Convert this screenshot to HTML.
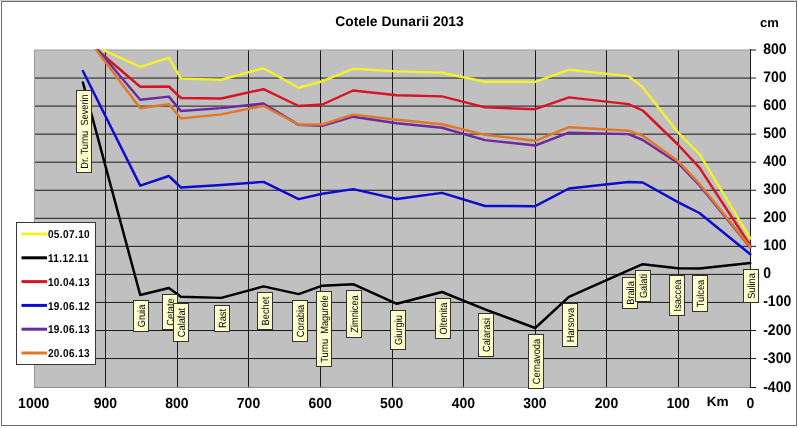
<!DOCTYPE html>
<html><head><meta charset="utf-8"><title>Cotele Dunarii 2013</title><style>
html,body{margin:0;padding:0;background:#fff;}
body{width:798px;height:428px;overflow:hidden;position:relative;font-family:"Liberation Sans",sans-serif;}
svg{position:absolute;left:0;top:0;display:block;will-change:transform;}
text{font-family:"Liberation Sans",sans-serif;text-rendering:geometricPrecision;}
</style></head><body>
<svg width="798" height="428" viewBox="0 0 798 428">
<defs><clipPath id="pc"><rect x="34" y="48" width="718" height="340"/></clipPath></defs>
<rect x="0" y="0" width="798" height="1" fill="#d0d0d0"/>
<rect x="1.5" y="1.5" width="795" height="424" fill="#fff" stroke="#6c6c6c" stroke-width="1"/>

<rect x="34" y="50" width="716.5" height="337.5" fill="#c0c0c0"/>
<path d="M34 78.05H750 M34 106.10H750 M34 134.15H750 M34 162.20H750 M34 190.25H750 M34 218.30H750 M34 246.35H750 M34 274.40H750 M34 302.45H750 M34 330.50H750 M34 358.55H750 M105.5 50V387 M177.5 50V387 M248.5 50V387 M320.5 50V387 M392.5 50V387 M463.5 50V387 M535.5 50V387 M606.5 50V387 M678.5 50V387" stroke="#1a1a1a" stroke-width="1" fill="none"/>
<path d="M34.5 387.5V50H750" stroke="#9a9a9a" stroke-width="1" fill="none"/>
<path d="M34 387.5H750" stroke="#8c8c8c" stroke-width="1" fill="none"/>
<path d="M750.5 49V388 M750 50.00H756 M750 78.05H756 M750 106.10H756 M750 134.15H756 M750 162.20H756 M750 190.25H756 M750 218.30H756 M750 246.35H756 M750 274.40H756 M750 302.45H756 M750 330.50H756 M750 358.55H756 M750 387.50H756" stroke="#1a1a1a" stroke-width="1" fill="none"/>
<g clip-path="url(#pc)" fill="none" stroke-width="2.45" stroke-linejoin="round" stroke-linecap="round">
<polyline points="103.25,50.00 140.22,66.90 168.89,57.60 180.90,78.60 221.23,79.80 263.52,68.20 298.65,87.70 322.31,81.20 353.14,68.80 396.87,71.40 442.03,72.70 485.05,81.70 535.23,81.90 568.92,69.80 628.43,76.10 642.76,87.40 677.90,132.30 699.40,153.80 750.30,238.40" stroke="#f2f22a"/>
<polyline points="82.90,82.40 140.22,295.00 168.89,288.00 180.90,296.80 221.23,297.90 263.52,286.40 298.65,294.10 322.31,285.70 353.14,284.20 396.87,303.80 442.03,292.00 485.05,309.30 535.23,328.00 568.92,296.90 628.43,270.40 642.76,264.20 677.90,268.30 699.40,268.50 750.30,263.00" stroke="#000000"/>
<polyline points="97.17,50.00 140.22,86.80 168.89,86.50 180.90,98.00 221.23,98.50 263.52,89.20 298.65,106.00 322.31,104.50 353.14,90.50 396.87,95.20 442.03,96.40 485.05,107.40 535.23,109.20 568.92,97.40 628.43,104.10 642.76,110.50 677.90,144.50 699.40,167.70 750.30,245.40" stroke="#d81424"/>
<polyline points="82.90,71.00 140.22,185.60 168.89,176.00 180.90,187.50 221.23,185.00 263.52,181.90 298.65,199.10 322.31,193.80 353.14,189.10 396.87,199.00 442.03,192.90 485.05,206.00 535.23,206.20 568.92,188.50 628.43,182.00 642.76,182.50 677.90,202.10 699.40,213.00 750.30,254.30" stroke="#0c0cd0"/>
<polyline points="98.01,50.00 140.22,99.70 168.89,96.60 180.90,111.00 221.23,108.10 263.52,103.50 298.65,124.90 322.31,125.80 353.14,116.70 396.87,123.30 442.03,127.70 485.05,140.10 535.23,145.50 568.92,132.70 628.43,134.10 642.76,140.00 677.90,163.00 699.40,185.20 750.30,247.50" stroke="#6a2aa0"/>
<polyline points="96.31,50.00 140.22,108.30 168.89,104.10 180.90,118.50 221.23,114.40 263.52,105.80 298.65,124.50 322.31,124.50 353.14,114.60 396.87,119.80 442.03,124.20 485.05,134.90 535.23,140.80 568.92,127.20 628.43,130.70 642.76,135.70 677.90,160.90 699.40,183.70 750.30,246.90" stroke="#e07828"/>
</g>
<rect x="76.5" y="90.5" width="15" height="82" fill="#ffffce" stroke="#333" stroke-width="1"/>
<text transform="translate(87.8 131.5) rotate(-90) scale(0.890 1)" text-anchor="middle" font-size="10.4" fill="#000" xml:space="preserve">Dr. Turnu  Severin</text>
<rect x="133.5" y="300.5" width="15" height="31" fill="#ffffce" stroke="#333" stroke-width="1"/>
<text transform="translate(144.8 316.0) rotate(-90) scale(0.890 1)" text-anchor="middle" font-size="10.4" fill="#000" xml:space="preserve">Gruia</text>
<rect x="162.5" y="294.5" width="15" height="35" fill="#ffffce" stroke="#333" stroke-width="1"/>
<text transform="translate(173.8 312.0) rotate(-90) scale(0.890 1)" text-anchor="middle" font-size="10.4" fill="#000" xml:space="preserve">Cetate</text>
<rect x="173.5" y="303.5" width="15" height="38" fill="#ffffce" stroke="#333" stroke-width="1"/>
<text transform="translate(184.8 322.5) rotate(-90) scale(0.890 1)" text-anchor="middle" font-size="10.4" fill="#000" xml:space="preserve">Calafat</text>
<rect x="214.5" y="305.5" width="15" height="26" fill="#ffffce" stroke="#333" stroke-width="1"/>
<text transform="translate(225.8 318.5) rotate(-90) scale(0.890 1)" text-anchor="middle" font-size="10.4" fill="#000" xml:space="preserve">Rast</text>
<rect x="257.5" y="292.5" width="15" height="37" fill="#ffffce" stroke="#333" stroke-width="1"/>
<text transform="translate(268.8 311.0) rotate(-90) scale(0.890 1)" text-anchor="middle" font-size="10.4" fill="#000" xml:space="preserve">Bechet</text>
<rect x="292.5" y="300.5" width="15" height="41" fill="#ffffce" stroke="#333" stroke-width="1"/>
<text transform="translate(303.8 321.0) rotate(-90) scale(0.890 1)" text-anchor="middle" font-size="10.4" fill="#000" xml:space="preserve">Corabia</text>
<rect x="316.5" y="291.5" width="15" height="75" fill="#ffffce" stroke="#333" stroke-width="1"/>
<text transform="translate(327.8 329.0) rotate(-90) scale(0.890 1)" text-anchor="middle" font-size="10.4" fill="#000" xml:space="preserve">Turnu  Magurele</text>
<rect x="346.5" y="290.5" width="15" height="47" fill="#ffffce" stroke="#333" stroke-width="1"/>
<text transform="translate(357.8 314.0) rotate(-90) scale(0.890 1)" text-anchor="middle" font-size="10.4" fill="#000" xml:space="preserve">Zimnicea</text>
<rect x="390.5" y="310.5" width="15" height="39" fill="#ffffce" stroke="#333" stroke-width="1"/>
<text transform="translate(401.8 330.0) rotate(-90) scale(0.890 1)" text-anchor="middle" font-size="10.4" fill="#000" xml:space="preserve">Giurgiu</text>
<rect x="435.5" y="298.5" width="15" height="40" fill="#ffffce" stroke="#333" stroke-width="1"/>
<text transform="translate(446.8 318.5) rotate(-90) scale(0.890 1)" text-anchor="middle" font-size="10.4" fill="#000" xml:space="preserve">Oltenita</text>
<rect x="478.5" y="313.5" width="15" height="43" fill="#ffffce" stroke="#333" stroke-width="1"/>
<text transform="translate(489.8 335.0) rotate(-90) scale(0.890 1)" text-anchor="middle" font-size="10.4" fill="#000" xml:space="preserve">Calarasi</text>
<rect x="528.5" y="334.5" width="15" height="54" fill="#ffffce" stroke="#333" stroke-width="1"/>
<text transform="translate(539.8 361.5) rotate(-90) scale(0.890 1)" text-anchor="middle" font-size="10.4" fill="#000" xml:space="preserve">Cernavoda</text>
<rect x="562.5" y="303.5" width="15" height="43" fill="#ffffce" stroke="#333" stroke-width="1"/>
<text transform="translate(573.8 325.0) rotate(-90) scale(0.890 1)" text-anchor="middle" font-size="10.4" fill="#000" xml:space="preserve">Harsova</text>
<rect x="622.5" y="277.5" width="15" height="31" fill="#ffffce" stroke="#333" stroke-width="1"/>
<text transform="translate(633.8 293.0) rotate(-90) scale(0.890 1)" text-anchor="middle" font-size="10.4" fill="#000" xml:space="preserve">Braila</text>
<rect x="635.5" y="270.5" width="15" height="31" fill="#ffffce" stroke="#333" stroke-width="1"/>
<text transform="translate(646.8 286.0) rotate(-90) scale(0.890 1)" text-anchor="middle" font-size="10.4" fill="#000" xml:space="preserve">Galati</text>
<rect x="669.5" y="275.5" width="15" height="40" fill="#ffffce" stroke="#333" stroke-width="1"/>
<text transform="translate(680.8 295.5) rotate(-90) scale(0.890 1)" text-anchor="middle" font-size="10.4" fill="#000" xml:space="preserve">Isaccea</text>
<rect x="692.5" y="275.5" width="15" height="36" fill="#ffffce" stroke="#333" stroke-width="1"/>
<text transform="translate(703.8 293.5) rotate(-90) scale(0.890 1)" text-anchor="middle" font-size="10.4" fill="#000" xml:space="preserve">Tulcea</text>
<rect x="743.5" y="269.5" width="15" height="33" fill="#ffffce" stroke="#333" stroke-width="1"/>
<text transform="translate(754.8 286.0) rotate(-90) scale(0.890 1)" text-anchor="middle" font-size="10.4" fill="#000" xml:space="preserve">Sulina</text>
<rect x="16.5" y="222.5" width="79" height="142" fill="#fff" stroke="#383838" stroke-width="1"/>
<path d="M21.5 234.0H47" stroke="#f2f22a" stroke-width="3"/>
<text transform="translate(47.9 238.10) scale(0.88 1)" font-size="11.4" font-weight="bold" letter-spacing="0.45" fill="#000">05.07.10</text>
<path d="M21.5 257.8H47" stroke="#000000" stroke-width="3"/>
<text transform="translate(47.9 261.90) scale(0.88 1)" font-size="11.4" font-weight="bold" letter-spacing="0.45" fill="#000">11.12.11</text>
<path d="M21.5 281.6H47" stroke="#d81424" stroke-width="3"/>
<text transform="translate(47.9 285.70) scale(0.88 1)" font-size="11.4" font-weight="bold" letter-spacing="0.45" fill="#000">10.04.13</text>
<path d="M21.5 305.4H47" stroke="#0c0cd0" stroke-width="3"/>
<text transform="translate(47.9 309.50) scale(0.88 1)" font-size="11.4" font-weight="bold" letter-spacing="0.45" fill="#000">19.06.12</text>
<path d="M21.5 329.2H47" stroke="#6a2aa0" stroke-width="3"/>
<text transform="translate(47.9 333.30) scale(0.88 1)" font-size="11.4" font-weight="bold" letter-spacing="0.45" fill="#000">19.06.13</text>
<path d="M21.5 353.0H47" stroke="#e07828" stroke-width="3"/>
<text transform="translate(47.9 357.10) scale(0.88 1)" font-size="11.4" font-weight="bold" letter-spacing="0.45" fill="#000">20.06.13</text>
<text x="399.5" y="26.4" font-size="13.85" font-weight="bold" text-anchor="middle" fill="#000">Cotele Dunarii 2013</text>
<text x="760" y="27" font-size="13" font-weight="bold" fill="#000">cm</text>
<text x="706.7" y="405.7" font-size="13.6" font-weight="bold" fill="#000">Km</text>
<text transform="translate(763.2 54.00) scale(1 1.09)" font-size="14" font-weight="bold" fill="#000">800</text>
<text transform="translate(763.2 82.05) scale(1 1.09)" font-size="14" font-weight="bold" fill="#000">700</text>
<text transform="translate(763.2 110.10) scale(1 1.09)" font-size="14" font-weight="bold" fill="#000">600</text>
<text transform="translate(763.2 138.15) scale(1 1.09)" font-size="14" font-weight="bold" fill="#000">500</text>
<text transform="translate(763.2 166.20) scale(1 1.09)" font-size="14" font-weight="bold" fill="#000">400</text>
<text transform="translate(763.2 194.25) scale(1 1.09)" font-size="14" font-weight="bold" fill="#000">300</text>
<text transform="translate(763.2 222.30) scale(1 1.09)" font-size="14" font-weight="bold" fill="#000">200</text>
<text transform="translate(763.2 250.35) scale(1 1.09)" font-size="14" font-weight="bold" fill="#000">100</text>
<text transform="translate(763.2 278.40) scale(1 1.09)" font-size="14" font-weight="bold" fill="#000">0</text>
<text transform="translate(763.2 306.45) scale(1 1.09)" font-size="14" font-weight="bold" fill="#000">-100</text>
<text transform="translate(763.2 334.50) scale(1 1.09)" font-size="14" font-weight="bold" fill="#000">-200</text>
<text transform="translate(763.2 362.55) scale(1 1.09)" font-size="14" font-weight="bold" fill="#000">-300</text>
<text transform="translate(763.2 391.50) scale(1 1.09)" font-size="14" font-weight="bold" fill="#000">-400</text>
<text transform="translate(33.7 408.4) scale(1 1.04)" font-size="14" font-weight="bold" text-anchor="middle" fill="#000">1000</text>
<text transform="translate(105.3 408.4) scale(1 1.04)" font-size="14" font-weight="bold" text-anchor="middle" fill="#000">900</text>
<text transform="translate(176.9 408.4) scale(1 1.04)" font-size="14" font-weight="bold" text-anchor="middle" fill="#000">800</text>
<text transform="translate(248.5 408.4) scale(1 1.04)" font-size="14" font-weight="bold" text-anchor="middle" fill="#000">700</text>
<text transform="translate(320.1 408.4) scale(1 1.04)" font-size="14" font-weight="bold" text-anchor="middle" fill="#000">600</text>
<text transform="translate(391.7 408.4) scale(1 1.04)" font-size="14" font-weight="bold" text-anchor="middle" fill="#000">500</text>
<text transform="translate(463.3 408.4) scale(1 1.04)" font-size="14" font-weight="bold" text-anchor="middle" fill="#000">400</text>
<text transform="translate(534.9 408.4) scale(1 1.04)" font-size="14" font-weight="bold" text-anchor="middle" fill="#000">300</text>
<text transform="translate(606.5 408.4) scale(1 1.04)" font-size="14" font-weight="bold" text-anchor="middle" fill="#000">200</text>
<text transform="translate(678.1 408.4) scale(1 1.04)" font-size="14" font-weight="bold" text-anchor="middle" fill="#000">100</text>
<text transform="translate(750.4 408.4) scale(1 1.04)" font-size="14" font-weight="bold" text-anchor="middle" fill="#000">0</text>
</svg></body></html>
